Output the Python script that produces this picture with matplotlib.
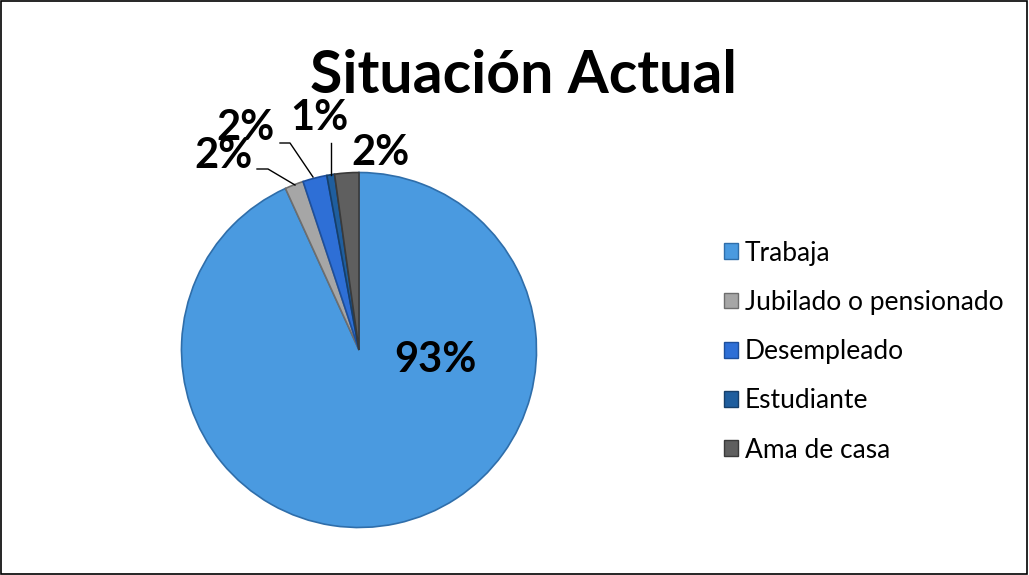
import matplotlib.pyplot as plt
from matplotlib.patches import Patch

categorias = ['Trabaja', 'Jubilado o pensionado', 'Desempleado', 'Estudiante', 'Ama de casa']
porcentajes = [93.2, 1.7, 2.2, 0.7, 2.2]
colores = ['#4a9ae0', '#a6a6a6', '#2e6fd6', '#1f5e9e', '#5f5f5f']
bordes = ['#2f6eaa', '#6e6e6e', '#1d4f9c', '#163f6a', '#3a3a3a']

plt.rcParams['font.family'] = ['Lato', 'DejaVu Sans']

W, H = 1029, 575
fig = plt.figure(figsize=(W / 100, H / 100), dpi=100)

# pie centre and radius in pixels (from top-left)
cx, cy, r = 359, 350, 177.5
ax = fig.add_axes([(cx - r) / W, (H - cy - r) / H, 2 * r / W, 2 * r / H])


def px(x, y):
    return ((x - cx) / r, (cy - y) / r)


wedges, _ = ax.pie(porcentajes, colors=colores, startangle=90, counterclock=False,
                   radius=1, wedgeprops=dict(linewidth=1.2))
for w, b in zip(wedges, bordes):
    w.set_edgecolor(b)
ax.set_xlim(-1, 1)
ax.set_ylim(-1, 1)
ax.set_aspect('equal')
ax.axis('off')

etiquetas = [f'{round(p):.0f}%' for p in porcentajes]
lbl_kw = dict(fontsize=30, fontweight='bold', ha='center', va='baseline', color='black')

ax.text(*px(435, 372), etiquetas[0], **lbl_kw)

# small slices: label positions and leader lines
ax.text(*px(223, 168), etiquetas[1], **lbl_kw)
ax.plot(*zip(px(257, 169), px(268, 169), px(295, 185)), color='black', lw=1, clip_on=False)

ax.text(*px(245, 140), etiquetas[2], **lbl_kw)
ax.plot(*zip(px(280, 143), px(290, 143), px(313, 177)), color='black', lw=1, clip_on=False)

ax.text(*px(319, 130), etiquetas[3], **lbl_kw)
ax.plot(*zip(px(331, 143), px(331, 175)), color='black', lw=1, clip_on=False)

ax.text(*px(380, 165), etiquetas[4], **lbl_kw)

for t in ax.texts:
    t.set_clip_on(False)

fig.text(524 / W, 1 - 93 / H, 'Situación Actual', fontsize=42.5, fontweight='bold',
         ha='center', va='baseline')

handles = [Patch(facecolor=c, edgecolor=b) for c, b in zip(colores, bordes)]
fig.legend(handles, categorias, loc='upper left', bbox_to_anchor=(713 / W, 1 - 230 / H),
           frameon=False, fontsize=19, handlelength=0.55, handleheight=0.55,
           handletextpad=0.25, labelspacing=0.92, borderaxespad=0)

# outer frame
fig.patches.append(plt.Rectangle((0.0005, 0.001), 0.998, 0.997, transform=fig.transFigure,
                                 fill=False, edgecolor='black', lw=1.2))

fig.savefig('out.png', dpi=100)
